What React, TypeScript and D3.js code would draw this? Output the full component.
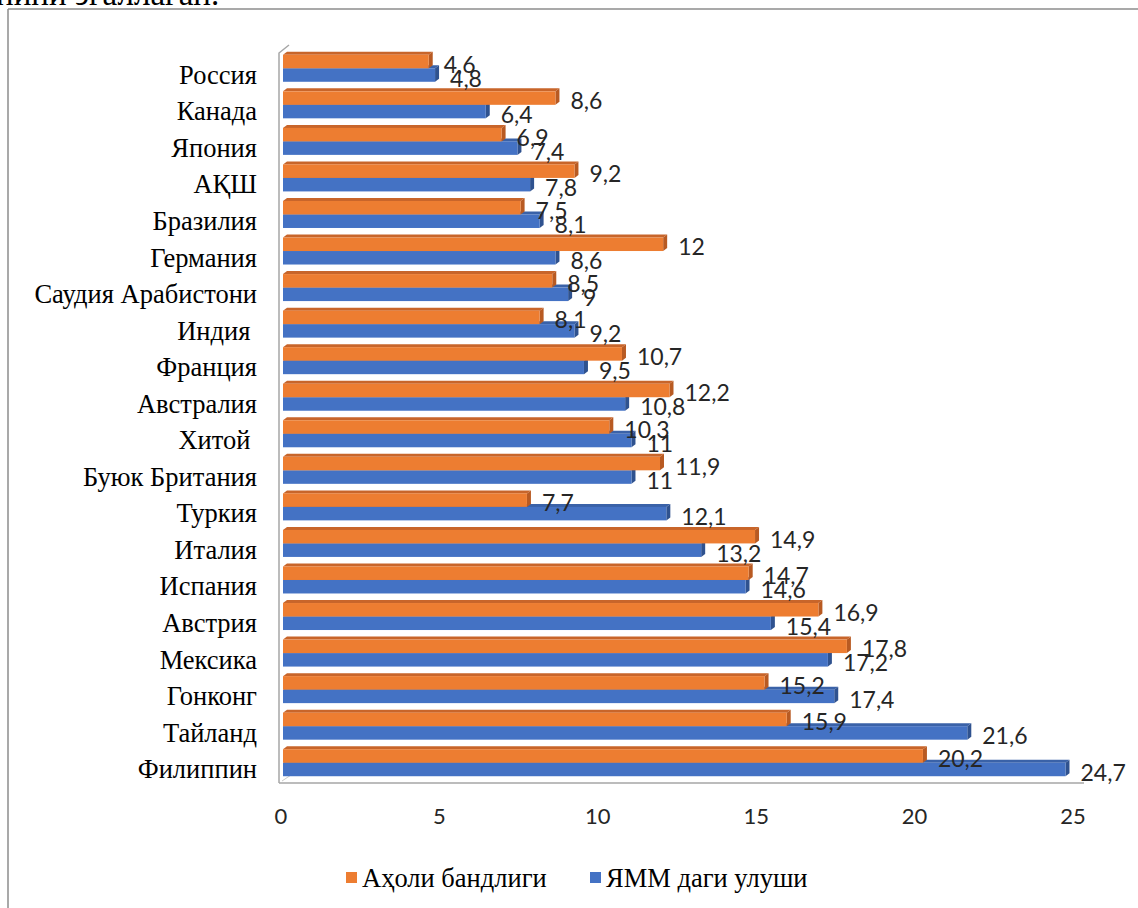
import { scaleBand, scaleLinear } from "d3";

const countries = [
  "Россия",
  "Канада",
  "Япония",
  "АҚШ",
  "Бразилия",
  "Германия",
  "Саудия Арабистони",
  "Индия\u00a0",
  "Франция",
  "Австралия",
  "Хитой\u00a0",
  "Буюк Британия",
  "Туркия",
  "Италия",
  "Испания",
  "Австрия",
  "Мексика",
  "Гонконг",
  "Тайланд",
  "Филиппин",
];

// Аҳоли бандлиги
const employment = [4.6, 8.6, 6.9, 9.2, 7.5, 12, 8.5, 8.1, 10.7, 12.2, 10.3, 11.9, 7.7, 14.9, 14.7, 16.9, 17.8, 15.2, 15.9, 20.2];
// ЯММ даги улуши
const gdpShare = [4.8, 6.4, 7.4, 7.8, 8.1, 8.6, 9, 9.2, 9.5, 10.8, 11, 11, 12.1, 13.2, 14.6, 15.4, 17.2, 17.4, 21.6, 24.7];

const xTicks = [0, 5, 10, 15, 20, 25];
const seriesNames = ["Аҳоли бандлиги", "ЯММ даги улуши"];

const ORANGE = { front: "#ED7D31", top: "#C8652A", side: "#B85A22" };
const BLUE = { front: "#4472C4", top: "#3A62A8", side: "#2F528F" };

const fmt = (v: number) => String(v).replace(".", ",");

const DX = 4;
const DY = -3;

const Bar3D = ({ x0, x1, y, h, c }: { x0: number; x1: number; y: number; h: number; c: typeof ORANGE }) => (
  <g>
    <polygon points={`${x0},${y} ${x0 + DX},${y + DY} ${x1 + DX},${y + DY} ${x1},${y}`} fill={c.top} />
    <polygon points={`${x1},${y} ${x1 + DX},${y + DY} ${x1 + DX},${y + h + DY} ${x1},${y + h}`} fill={c.side} />
    <rect x={x0} y={y} width={x1 - x0} height={h} fill={c.front} />
  </g>
);

const App = () => {
  const width = 1138;
  const height = 908;

  const x = scaleLinear().domain([0, 25]).range([283, 1075]);
  const y = scaleBand<string>().domain(countries).range([51, 782]).paddingInner(0);

  const barH = 13.5;
  const serif = "'Liberation Serif', 'Times New Roman', serif";
  const sans = "Lato, 'Open Sans', sans-serif";

  return (
    <svg
      width={width}
      height={height}
      style={{ position: "absolute", left: 0, top: 0, background: "#fff" }}
    >
      <text x={-4} y={5} fontFamily={serif} fontSize={33} fill="#000">
        нини эгаллаган.
      </text>
      <line x1={8} y1={9} x2={width} y2={9} stroke="#8c8c8c" strokeWidth={1.5} />
      <line x1={8} y1={9} x2={8} y2={height} stroke="#8c8c8c" strokeWidth={1.5} />

      {/* 3D walls */}
      <polyline points={`279,783 279,53 289,45`} fill="none" stroke="#a6a6a6" strokeWidth={1.5} />
      <polyline points={`279,783 1084,783`} fill="none" stroke="#a6a6a6" strokeWidth={1.5} />
      <line x1={282} y1={781} x2={291} y2={775} stroke="#c8c8c8" strokeWidth={1} />

      {countries.map((c, i) => {
        const cy = y(c)! + y.bandwidth() / 2 - 1;
        const yo = cy - barH;
        const yb = cy;
        return (
          <g key={c}>
            <Bar3D x0={x(0)} x1={x(gdpShare[i])} y={yb} h={barH} c={BLUE} />
            <Bar3D x0={x(0)} x1={x(employment[i])} y={yo} h={barH} c={ORANGE} />
          </g>
        );
      })}

      {countries.map((c, i) => {
        const cy = y(c)! + y.bandwidth() / 2 - 1;
        return (
          <g key={`lab-${c}`} fontFamily={sans} fontSize={23} fill="#262626">
            <text x={x(employment[i]) + 15} y={cy - barH / 2 + 11}>
              {fmt(employment[i])}
            </text>
            <text x={x(gdpShare[i]) + 15} y={cy + barH / 2 + 11.5}>
              {fmt(gdpShare[i])}
            </text>
          </g>
        );
      })}

      {countries.map((c) => (
        <text
          key={`cat-${c}`}
          x={257}
          y={y(c)! + y.bandwidth() / 2 + 14.5}
          textAnchor="end"
          fontFamily={serif}
          fontSize={26.5}
          fill="#000"
          style={{ whiteSpace: "pre" }}
        >
          {c}
        </text>
      ))}

      {xTicks.map((t) => (
        <text key={`t-${t}`} x={x(t) - 2} y={824} textAnchor="middle" fontFamily={sans} fontSize={22} fill="#262626">
          {t}
        </text>
      ))}

      <g fontFamily={serif} fontSize={26.5} fill="#000">
        <rect x={346} y={872} width={11} height={11} fill={ORANGE.front} />
        <text x={362} y={887}>
          {seriesNames[0]}
        </text>
        <rect x={590} y={872} width={11} height={11} fill={BLUE.front} />
        <text x={606} y={887}>
          {seriesNames[1]}
        </text>
      </g>
    </svg>
  );
};

export default App;
